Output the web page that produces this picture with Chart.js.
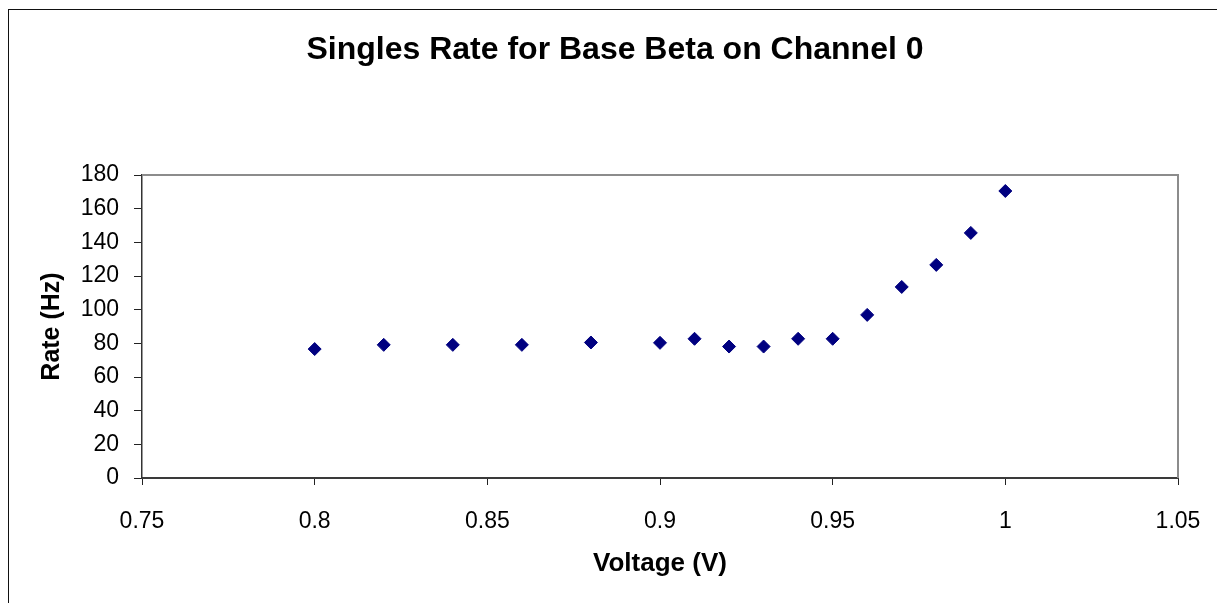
<!DOCTYPE html>
<html>
<head>
<meta charset="utf-8">
<script src="https://cdn.jsdelivr.net/npm/chart.js@4"></script>
<style>
  body { margin: 0; background: #fff; }
  #wrap { width: 1217px; height: 603px; }
</style>
</head>
<body>
<div id="wrap"><canvas id="chart" width="1217" height="603"></canvas></div>
<script>
// data
var voltages = [0.8, 0.82, 0.84, 0.86, 0.88, 0.9, 0.91, 0.92, 0.93, 0.94, 0.95, 0.96, 0.97, 0.98, 0.99, 1.0];
var rates = [76.6, 79.1, 79.1, 79.1, 80.5, 80.3, 82.7, 78.1, 78.1, 82.7, 82.7, 96.9, 113.5, 126.6, 145.6, 170.5];
var xTicks = [0.75, 0.8, 0.85, 0.9, 0.95, 1, 1.05];
var yTicks = [0, 20, 40, 60, 80, 100, 120, 140, 160, 180];

var FONT = "'Liberation Sans', Arial, sans-serif";

var points = [];
for (var i = 0; i < voltages.length; i++) {
    points.push({ x: voltages[i], y: rates[i] });
}

// outer chart border + grey top/right edge of the plot area
var frame = {
    id: 'frame',
    afterLayout: function(chart) {
        // the title is centred on the whole outer frame, not just the plot
        if (chart.titleBlock) {
            chart.titleBlock.left = 13;
            chart.titleBlock.right = chart.width;
        }
    },
    beforeDraw: function(chart) {
        var ctx = chart.ctx;
        ctx.save();
        ctx.fillStyle = '#fff';
        ctx.fillRect(0, 0, chart.width, chart.height);
        ctx.strokeStyle = '#111';
        ctx.lineWidth = 1;
        ctx.strokeRect(8.5, 9.5, chart.width + 10, chart.height + 10);
        ctx.restore();
    },
    beforeDatasetsDraw: function(chart) {
        var a = chart.chartArea;
        var ctx = chart.ctx;
        ctx.save();
        ctx.strokeStyle = '#8c8c8c';
        ctx.lineWidth = 2;
        ctx.beginPath();
        ctx.moveTo(a.left, a.top);
        ctx.lineTo(a.right, a.top);
        ctx.lineTo(a.right, a.bottom);
        ctx.stroke();
        ctx.restore();
    }
};

var ctx = document.getElementById('chart').getContext('2d');
window.chart = new Chart(ctx, {
    type: 'scatter',
    data: {
        datasets: [{
            label: 'Rate',
            data: points,
            pointStyle: 'rectRot',
            pointRadius: 6.5,
            pointHoverRadius: 6.5,
            backgroundColor: '#000080',
            borderColor: '#000080',
            borderWidth: 1
        }]
    },
    options: {
        responsive: false,
        animation: false,
        layout: { padding: { left: 0, right: 39, top: 0, bottom: 0 } },
        plugins: {
            legend: { display: false },
            tooltip: { enabled: false },
            title: {
                display: true,
                text: 'Singles Rate for Base Beta on Channel 0',
                color: '#000',
                font: { family: FONT, size: 32, weight: 'bold' },
                padding: { top: 31, bottom: 105.6 }
            }
        },
        scales: {
            x: {
                type: 'linear',
                min: xTicks[0],
                max: xTicks[xTicks.length - 1],
                afterBuildTicks: function(scale) {
                    scale.ticks = xTicks.map(function(v) { return { value: v }; });
                },
                afterFit: function(scale) {
                    scale.height = 125;
                    scale.paddingLeft = 25;
                    scale.paddingRight = 25;
                },
                ticks: {
                    color: '#000',
                    font: { family: FONT, size: 23 },
                    padding: 23,
                    maxRotation: 0,
                    autoSkip: false,
                    callback: function(v) { return String(parseFloat(v.toFixed(2))); }
                },
                grid: { drawOnChartArea: false, tickLength: 7, tickColor: '#222', lineWidth: 1 },
                border: { color: '#3a3a3a', width: 2 },
                title: {
                    display: true,
                    text: 'Voltage (V)',
                    color: '#000',
                    font: { family: FONT, size: 26, weight: 'bold' },
                    padding: { top: 0, bottom: 24 }
                }
            },
            y: {
                min: yTicks[0],
                max: yTicks[yTicks.length - 1],
                afterBuildTicks: function(scale) {
                    scale.ticks = yTicks.map(function(v) { return { value: v }; });
                },
                afterFit: function(scale) { scale.width = 142; },
                ticks: {
                    color: '#000',
                    font: { family: FONT, size: 23 },
                    padding: 15,
                    autoSkip: false
                },
                grid: { drawOnChartArea: false, tickLength: 8, tickColor: '#222', lineWidth: 1 },
                border: { color: '#333', width: 1.5 },
                title: {
                    display: true,
                    text: 'Rate (Hz)',
                    color: '#000',
                    font: { family: FONT, size: 25, weight: 'bold' },
                    padding: { top: 37, bottom: 0 }
                }
            }
        }
    },
    plugins: [frame]
});
</script>
</body>
</html>
